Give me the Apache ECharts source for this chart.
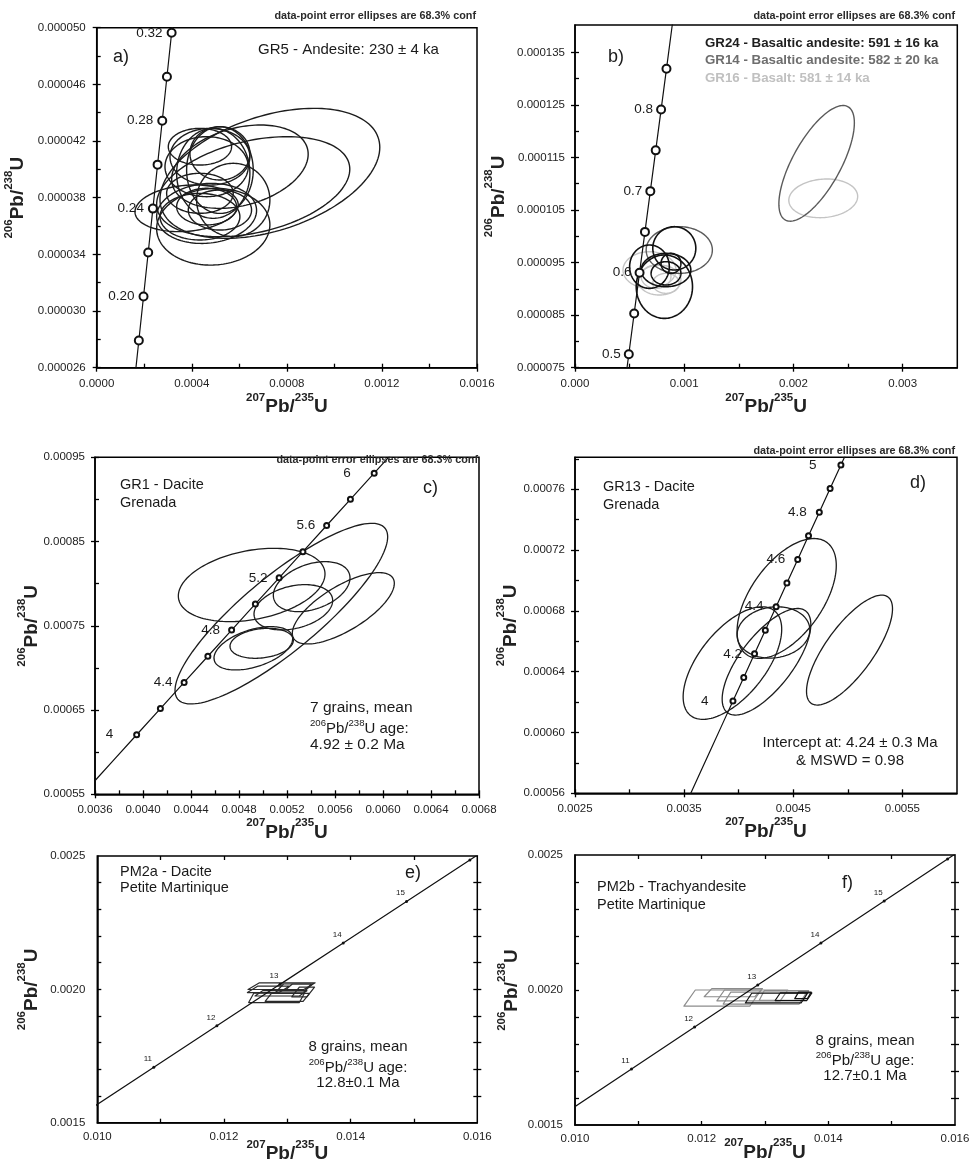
<!DOCTYPE html>
<html><head><meta charset="utf-8">
<script src="https://cdn.jsdelivr.net/npm/echarts@6/dist/echarts.min.js"></script>
<style>html,body{margin:0;padding:0;background:#fff}#c{width:969px;height:1162px}</style>
</head><body><div id="c"></div>
<script>
const FONT = '"Liberation Sans", Arial, Helvetica, sans-serif';
const INK = '#1a1a1a';

// ---------------- Panel a : GR5 ----------------
const aConcAges = [0.16,0.18,0.20,0.22,0.24,0.26,0.28,0.30,0.32,0.34];
const aConcX = [1.5759e-4,1.7729e-4,1.9699e-4,2.1669e-4,2.3639e-4,2.5609e-4,2.7580e-4,2.9550e-4,3.1520e-4,3.3490e-4];
const aConcY = [2.4820e-5,2.7923e-5,3.1025e-5,3.4128e-5,3.7230e-5,4.0333e-5,4.3436e-5,4.6538e-5,4.9641e-5,5.2744e-5];
const aMarkAges = [0.18,0.20,0.22,0.24,0.26,0.28,0.30,0.32];
const aAgeLabels = ['0.20','0.24','0.28','0.32'];
// [x centre, y centre, x half-range, y half-range, correlation]
const aEllipses = [
  [7.286e-4,3.972e-5,4.624e-4,4.588e-6,0.40],
  [6.585e-4,3.878e-5,4.063e-4,3.530e-6,0.35],
  [6.025e-4,4.019e-5,2.872e-4,2.941e-6,0.30],
  [4.764e-4,4.089e-5,1.681e-4,2.000e-6,0],
  [4.343e-4,4.160e-5,1.331e-4,1.294e-6,0],
  [5.184e-4,4.113e-5,1.261e-4,1.882e-6,0],
  [4.904e-4,3.972e-5,1.541e-4,3.177e-6,0],
  [4.624e-4,4.019e-5,1.751e-4,2.118e-6,0],
  [4.904e-4,3.595e-5,2.382e-4,2.706e-6,0.05],
  [4.624e-4,3.689e-5,2.102e-4,2.118e-6,0.10],
  [4.343e-4,3.666e-5,1.681e-4,1.647e-6,0],
  [4.624e-4,3.737e-5,1.261e-4,1.294e-6,0],
  [5.184e-4,3.713e-5,1.331e-4,1.412e-6,0],
  [3.783e-4,3.725e-5,2.172e-4,1.647e-6,0.15],
  [5.745e-4,3.784e-5,1.541e-4,2.588e-6,0],
  [4.343e-4,3.831e-5,1.401e-4,1.412e-6,0],
  [5.184e-4,3.995e-5,1.401e-4,3.059e-6,0]
];
const aXLabels = [0,0.0004,0.0008,0.0012,0.0016];
const aXTicks = [0,0.0002,0.0004,0.0006,0.0008,0.0010,0.0012,0.0014,0.0016];
const aYLabels = [0.000026,0.000030,0.000034,0.000038,0.000042,0.000046,0.000050];
const aYTicks = [0.000026,0.000028,0.000030,0.000032,0.000034,0.000036,0.000038,0.000040,0.000042,0.000044,0.000046,0.000048,0.000050];

// ---------------- Panel b : GR24 / GR14 / GR16 ----------------
const bConcAges = [0.45,0.50,0.55,0.60,0.65,0.70,0.75,0.80,0.85,0.90,0.95];
const bConcX = [4.4328e-4,4.9255e-4,5.4181e-4,5.9109e-4,6.4036e-4,6.8963e-4,7.3891e-4,7.8819e-4,8.3747e-4,8.8676e-4,9.3605e-4];
const bConcY = [6.9808e-5,7.7565e-5,8.5323e-5,9.3079e-5,1.00841e-4,1.08594e-4,1.16351e-4,1.24108e-4,1.31865e-4,1.39622e-4,1.47380e-4];
const bMarkAges = [0.50,0.55,0.60,0.65,0.70,0.75,0.80,0.85];
const bAgeLabels = ['0.5','0.6','0.7','0.8'];
const bEllipsesGR24 = [
  [8.182e-4,9.041e-5,2.576e-4,6.025e-6,0],
  [9.091e-4,9.771e-5,1.970e-4,4.123e-6,0],
  [6.818e-4,9.422e-5,1.818e-4,4.123e-6,0],
  [8.333e-4,9.295e-5,1.364e-4,2.220e-6,0],
  [8.788e-4,9.485e-5,0.909e-4,1.903e-6,0],
  [8.333e-4,9.358e-5,2.273e-4,3.171e-6,0]
];
const bEllipsesGR14 = [
  [2.2121e-3,1.1388e-4,3.455e-4,1.1004e-5,0.70],
  [9.545e-4,9.739e-5,3.030e-4,4.440e-6,0]
];
const bEllipsesGR16 = [
  [2.2727e-3,1.0722e-4,3.152e-4,3.679e-6,0.10],
  [6.818e-4,9.358e-5,2.424e-4,3.488e-6,0],
  [7.727e-4,9.168e-5,1.970e-4,2.854e-6,0],
  [7.424e-4,9.232e-5,1.364e-4,2.220e-6,0],
  [8.333e-4,9.105e-5,1.212e-4,1.903e-6,0]
];
const bXLabels = [0,0.001,0.002,0.003];
const bXTicks = [0,0.0005,0.001,0.0015,0.002,0.0025,0.003];
const bYLabels = [0.000075,0.000085,0.000095,0.000105,0.000115,0.000125,0.000135];
const bYTicks = [0.000075,0.000080,0.000085,0.000090,0.000095,0.000100,0.000105,0.000110,0.000115,0.000120,0.000125,0.000130,0.000135];

// ---------------- Panel c : GR1 ----------------
const cConcAges = [3.6,3.8,4.0,4.2,4.4,4.6,4.8,5.0,5.2,5.4,5.6,5.8,6.0,6.2];
const cConcX = [3.55175e-3,3.74944e-3,3.94717e-3,4.14494e-3,4.34274e-3,4.54059e-3,4.73847e-3,4.93639e-3,5.13436e-3,5.33236e-3,5.53040e-3,5.72848e-3,5.92659e-3,6.12475e-3];
const cConcY = [5.5861e-4,5.8965e-4,6.2069e-4,6.5174e-4,6.8278e-4,7.1383e-4,7.4488e-4,7.7593e-4,8.0698e-4,8.3803e-4,8.6908e-4,9.0013e-4,9.3118e-4,9.6224e-4];
const cMarkAges = [4.0,4.2,4.4,4.6,4.8,5.0,5.2,5.4,5.6,5.8,6.0];
const cAgeLabels = ['4','4.4','4.8','5.2','5.6','6'];
const cEllipses = [
  [4.9056e-3,7.9847e-4,6.111e-4,4.352e-5,0.30],
  [5.1528e-3,7.6444e-4,8.861e-4,1.0722e-4,0.85],
  [5.6694e-3,7.7077e-4,4.250e-4,4.233e-5,0.70],
  [5.2528e-3,7.7196e-4,3.278e-4,2.690e-5,0.30],
  [5.4056e-3,7.9649e-4,3.194e-4,2.967e-5,0.35],
  [4.9889e-3,7.2923e-4,2.639e-4,1.780e-5,0.20],
  [4.9194e-3,7.2329e-4,3.278e-4,2.572e-5,0.45]
];
const cXLabels = [0.0036,0.0040,0.0044,0.0048,0.0052,0.0056,0.0060,0.0064,0.0068];
const cXTicks = [0.0036,0.0038,0.0040,0.0042,0.0044,0.0046,0.0048,0.0050,0.0052,0.0054,0.0056,0.0058,0.0060,0.0062,0.0064,0.0066,0.0068];
const cYLabels = [0.00055,0.00065,0.00075,0.00085,0.00095];
const cYTicks = [0.00055,0.00060,0.00065,0.00070,0.00075,0.00080,0.00085,0.00090,0.00095];

// ---------------- Panel d : GR13 ----------------
const dConcAges = [3.5,3.6,3.7,3.8,3.9,4.0,4.1,4.2,4.3,4.4,4.5,4.6,4.7,4.8,4.9,5.0,5.1,5.2];
const dConcX = [3.45292e-3,3.55175e-3,3.65059e-3,3.74944e-3,3.84830e-3,3.94717e-3,4.04605e-3,4.14494e-3,4.24383e-3,4.34274e-3,4.44166e-3,4.54059e-3,4.63952e-3,4.73847e-3,4.83743e-3,4.93639e-3,5.03537e-3,5.13436e-3];
const dConcY = [5.4308e-4,5.5861e-4,5.7413e-4,5.8965e-4,6.0517e-4,6.2069e-4,6.3621e-4,6.5174e-4,6.6726e-4,6.8278e-4,6.9831e-4,7.1383e-4,7.2935e-4,7.4488e-4,7.6040e-4,7.7593e-4,7.9145e-4,8.0698e-4];
const dMarkAges = [4.0,4.1,4.2,4.3,4.4,4.5,4.6,4.7,4.8,4.9,5.0];
const dAgeLabels = ['4','4.2','4.4','4.6','4.8','5'];
const dEllipses = [
  [4.4394e-3,6.8815e-4,4.545e-4,3.943e-5,0.55],
  [3.9424e-3,6.4565e-4,4.515e-4,3.702e-5,0.60],
  [4.3182e-3,6.6581e-4,3.333e-4,1.687e-5,0.10],
  [4.2545e-3,6.4653e-4,4.061e-4,3.505e-5,0.70],
  [5.0152e-3,6.5420e-4,3.939e-4,3.614e-5,0.75]
];
const dXLabels = [0.0025,0.0035,0.0045,0.0055];
const dXTicks = [0.0025,0.0030,0.0035,0.0040,0.0045,0.0050,0.0055];
const dYLabels = [0.00056,0.00060,0.00064,0.00068,0.00072,0.00076];
const dYTicks = [0.00056,0.00058,0.00060,0.00062,0.00064,0.00066,0.00068,0.00070,0.00072,0.00074,0.00076,0.00078];

// ---------------- Panels e / f : PM2a, PM2b ----------------
const efConcAges = [10,11,12,13,14,15,16,17];
const efConcX = [9.8972e-3,1.08923e-2,1.18883e-2,1.28854e-2,1.38834e-2,1.48824e-2,1.58824e-2,1.68834e-2];
const efConcY = [1.55245e-3,1.70783e-3,1.86323e-3,2.01866e-3,2.17411e-3,2.32958e-3,2.48508e-3,2.64060e-3];
const efMarkAges = [11,12,13,14,15,16];
const efAgeLabels = ['11','12','13','14','15'];
// [x centre, y centre, x half-width, y half-height, shear]
const eBoxes = [
  [0.01291,0.002012,0.00044,0.0000125,0.00009],
  [0.01283,0.001968,0.00040,0.0000175,0.00004],
  [0.01310,0.002005,0.00022,0.0000150,0.00006],
  [0.01325,0.001990,0.00012,0.0000180,0.00006],
  [0.01300,0.001970,0.00030,0.0000150,0.00005],
  [0.01270,0.002000,0.00025,0.0000120,0.00008],
  [0.01318,0.002008,0.00016,0.0000120,0.00006],
  [0.01290,0.001985,0.00035,0.0000100,0.00006]
];
const fBoxesGrey = [
  [0.01233,0.001970,0.00052,0.0000300,0.00009],
  [0.01280,0.001980,0.00050,0.0000200,0.00006],
  [0.01300,0.001970,0.00060,0.0000220,0.00006],
  [0.01330,0.001980,0.00035,0.0000180,0.00004],
  [0.01250,0.001990,0.00040,0.0000150,0.00006]
];
const fBoxesBlack = [
  [0.01318,0.001970,0.00044,0.0000180,0.00005],
  [0.01345,0.001975,0.00025,0.0000140,0.00004],
  [0.01360,0.001980,0.00010,0.0000120,0.00003]
];
const efXLabels = [0.010,0.012,0.014,0.016];
const efXTicks = [0.011,0.012,0.013,0.014,0.015];
const efYLabels = [0.0015,0.0020,0.0025];
const efYTicks = [0.0016,0.0017,0.0018,0.0019,0.0020,0.0021,0.0022,0.0023,0.0024];

// ================= building the option =================
const grids = [], xAxes = [], yAxes = [], series = [], graphics = [];
const nameRich = {
  s: {fontSize: 11.5, fontWeight: 'bold', fontFamily: FONT, color: '#222', verticalAlign: 'top', lineHeight: 12},
  m: {fontSize: 19, fontWeight: 'bold', fontFamily: FONT, color: '#222', verticalAlign: 'bottom', lineHeight: 25}
};
const axisName = (a, b) => '{s|' + a + '}{m|Pb/}{s|' + b + '}{m|U}';
const near = (a, b) => Math.abs(a - b) < 1e-7;

function ellipseSeries(xi, yi, data, color, width) {
  return {type: 'custom', xAxisIndex: xi, yAxisIndex: yi, data: data, encode: {x: 0, y: 1}, silent: true, z: 2,
    renderItem: (params, api) => {
      const cx = api.value(0), cy = api.value(1), sx = api.value(2), sy = api.value(3), r = api.value(4);
      const q = Math.sqrt(1 - r * r), pts = [];
      for (let i = 0; i < 140; i++) {
        const t = i / 140 * 2 * Math.PI;
        pts.push(api.coord([cx + sx * Math.cos(t), cy + sy * (r * Math.cos(t) + q * Math.sin(t))]));
      }
      return {type: 'polygon', shape: {points: pts}, style: {fill: 'none', stroke: color, lineWidth: width}};
    }};
}
function boxSeries(xi, yi, data, color, width) {
  return {type: 'custom', xAxisIndex: xi, yAxisIndex: yi, data: data, encode: {x: 0, y: 1}, silent: true, z: 2,
    renderItem: (params, api) => {
      const cx = api.value(0), cy = api.value(1), w = api.value(2), h = api.value(3), s = api.value(4);
      const pts = [[cx - w + s, cy + h], [cx + w + s, cy + h], [cx + w - s, cy - h], [cx - w - s, cy - h]].map(p => api.coord(p));
      return {type: 'polygon', shape: {points: pts}, style: {fill: 'none', stroke: color, lineWidth: width, lineJoin: 'round'}};
    }};
}

function addPanel(p) {
  const gi = grids.length;
  grids.push({left: p.left, top: p.top, width: p.width, height: p.height, show: true,
    borderColor: '#000', borderWidth: 1.5, backgroundColor: 'transparent', containLabel: false, outerBoundsMode: 'none'});
  const tickStyle = {color: '#000', width: 1.3};
  const mk = (dim, pos, extra) => Object.assign({
    gridIndex: gi, type: 'value', position: pos,
    min: dim === 'x' ? p.xMin : p.yMin, max: dim === 'x' ? p.xMax : p.yMax,
    splitLine: {show: false}, splitArea: {show: false}, axisLine: {show: false, onZero: false},
    axisLabel: {show: false}, axisTick: {show: false}, minorTick: {show: false}, axisPointer: {show: false}, silent: true
  }, extra);
  const xi = xAxes.length, yi = yAxes.length;
  xAxes.push(mk('x', 'bottom', {
    axisLine: {show: true, onZero: false, lineStyle: {color: '#000', width: 1.5}},
    axisLabel: {show: true, customValues: p.xLabels, formatter: v => Number(v).toFixed(p.xDec),
      fontSize: 11.5, color: '#222', fontFamily: FONT, margin: p.xMargin},
    axisTick: p.ticks === 'ad' ? {show: true, inside: false, length: 4, customValues: p.xLabels, lineStyle: tickStyle} : {show: false},
    name: axisName('207', '235'), nameLocation: 'middle', nameGap: p.xNameGap, nameMoveOverlap: false,
    nameTextStyle: {rich: nameRich}
  }));
  xAxes.push(mk('x', 'bottom', {axisTick: {show: true, inside: true, length: 4, customValues: p.xTicks, lineStyle: tickStyle}}));
  yAxes.push(mk('y', 'left', {
    axisLine: {show: true, onZero: false, lineStyle: {color: '#000', width: 1.5}},
    axisLabel: {show: true, customValues: p.yLabels, formatter: v => Number(v).toFixed(p.yDec),
      fontSize: 11.5, color: '#222', fontFamily: FONT, margin: p.yMargin},
    axisTick: p.ticks === 'ad' ? {show: true, inside: false, length: 4, customValues: p.yLabels, lineStyle: tickStyle} : {show: false},
    name: axisName('206', '238'), nameLocation: 'middle', nameRotate: 90, nameGap: p.yNameGap, nameMoveOverlap: false,
    nameTextStyle: {rich: nameRich}
  }));
  yAxes.push(mk('y', 'left', {axisTick: {show: true, inside: true, length: 4, customValues: p.yTicks, lineStyle: tickStyle}}));
  if (p.ticks === 'ef') {
    xAxes.push(mk('x', 'top', {axisTick: {show: true, inside: true, length: 4, customValues: p.xTicks, lineStyle: tickStyle}}));
    yAxes.push(mk('y', 'right', {axisTick: {show: true, inside: true, length: 4, customValues: p.yTicks, lineStyle: tickStyle}}));
    yAxes.push(mk('y', 'right', {axisTick: {show: true, inside: false, length: 4, customValues: p.yTicks, lineStyle: tickStyle}}));
  }
  // concordia curve
  const c = p.conc;
  const items = c.ages.map((age, k) => {
    const isMark = c.marks.some(m => near(m, age));
    const lab = c.labels.find(l => near(parseFloat(l), age));
    const item = {value: [c.x[k], c.y[k]], symbol: isMark ? p.sym : 'none'};
    if (lab) item.label = {show: true, formatter: lab, distance: p.labDist + (lab.indexOf('.') < 0 ? p.intExtra : 0)};
    return item;
  });
  series.push({type: 'line', xAxisIndex: xi, yAxisIndex: yi, data: items, z: 3, clip: true,
    symbolSize: p.symSize, showAllSymbol: true, animation: false,
    lineStyle: {color: '#111', width: 1.2},
    itemStyle: {color: '#111', borderColor: '#111', borderWidth: p.symBorder},
    label: {show: false, position: p.labPos, offset: p.labOffset, fontSize: p.labFont, color: INK, fontFamily: FONT},
    emphasis: {disabled: true}});
  p.marks.forEach(m => series.push(m.kind === 'box'
    ? boxSeries(xi, yi, m.data, m.color, m.width)
    : ellipseSeries(xi, yi, m.data, m.color, m.width)));
}

const common = {labPos: 'left', labOffset: [0, 0], intExtra: 0};
addPanel(Object.assign({}, common, {left: 96.7, top: 27.7, width: 380.3, height: 340, ticks: 'ad',
  xMin: 0, xMax: 0.0016, xLabels: aXLabels, xTicks: aXTicks, xDec: 4,
  yMin: 0.000026, yMax: 0.00005, yLabels: aYLabels, yTicks: aYTicks, yDec: 6,
  xMargin: 10, yMargin: 11, xNameGap: 24, yNameGap: 69,
  conc: {ages: aConcAges, x: aConcX, y: aConcY, marks: aMarkAges, labels: aAgeLabels},
  sym: 'emptyCircle', symSize: 8, symBorder: 1.5, labDist: 4, labFont: 13.5,
  marks: [{data: aEllipses, color: '#1c1c1c', width: 1.4}]}));
addPanel(Object.assign({}, common, {left: 575, top: 25, width: 382.3, height: 342.7, ticks: 'ad',
  xMin: 0, xMax: 0.0035, xLabels: bXLabels, xTicks: bXTicks, xDec: 3,
  yMin: 0.000075, yMax: 0.0001402, yLabels: bYLabels, yTicks: bYTicks, yDec: 6,
  xMargin: 10, yMargin: 10, xNameGap: 24, yNameGap: 67,
  conc: {ages: bConcAges, x: bConcX, y: bConcY, marks: bMarkAges, labels: bAgeLabels},
  sym: 'emptyCircle', symSize: 8, symBorder: 1.5, labDist: 3, labFont: 13.5,
  marks: [{data: bEllipsesGR16, color: '#c4c4c4', width: 1.4},
          {data: bEllipsesGR14, color: '#5a5a5a', width: 1.4},
          {data: bEllipsesGR24, color: '#111', width: 1.6}]}));
addPanel(Object.assign({}, common, {left: 95, top: 457.3, width: 384, height: 337, ticks: 'ad',
  xMin: 0.0036, xMax: 0.0068, xLabels: cXLabels, xTicks: cXTicks, xDec: 4,
  yMin: 0.00055, yMax: 0.00095, yLabels: cYLabels, yTicks: cYTicks, yDec: 5,
  xMargin: 10, yMargin: 10, xNameGap: 23, yNameGap: 54,
  conc: {ages: cConcAges, x: cConcX, y: cConcY, marks: cMarkAges, labels: cAgeLabels},
  sym: 'emptyCircle', symSize: 5, symBorder: 1, labDist: 8, intExtra: 12, labFont: 13.5,
  marks: [{data: cEllipses, color: '#1c1c1c', width: 1.3}]}));
addPanel(Object.assign({}, common, {left: 575, top: 457.3, width: 382, height: 336, ticks: 'ad',
  xMin: 0.0025, xMax: 0.006, xLabels: dXLabels, xTicks: dXTicks, xDec: 4,
  yMin: 0.00056, yMax: 0.000781, yLabels: dYLabels, yTicks: dYTicks, yDec: 5,
  xMargin: 10, yMargin: 10, xNameGap: 23, yNameGap: 55,
  conc: {ages: dConcAges, x: dConcX, y: dConcY, marks: dMarkAges, labels: dAgeLabels},
  sym: 'emptyCircle', symSize: 5, symBorder: 1, labDist: 9, intExtra: 12, labFont: 13.5,
  marks: [{data: dEllipses, color: '#1c1c1c', width: 1.3}]}));
addPanel(Object.assign({}, common, {left: 97.3, top: 856, width: 380, height: 266.7, ticks: 'ef',
  xMin: 0.010, xMax: 0.016, xLabels: efXLabels, xTicks: efXTicks, xDec: 3,
  yMin: 0.0015, yMax: 0.0025, yLabels: efYLabels, yTicks: efYTicks, yDec: 4,
  xMargin: 8, yMargin: 12, xNameGap: 16, yNameGap: 56,
  conc: {ages: efConcAges, x: efConcX, y: efConcY, marks: efMarkAges, labels: efAgeLabels},
  sym: 'circle', symSize: 3, symBorder: 0, labPos: 'top', labOffset: [-6, 0], labDist: 3, labFont: 8,
  marks: [{kind: 'box', data: eBoxes, color: '#2a2a2a', width: 1.2}]}));
addPanel(Object.assign({}, common, {left: 575, top: 855, width: 380, height: 270, ticks: 'ef',
  xMin: 0.010, xMax: 0.016, xLabels: efXLabels, xTicks: efXTicks, xDec: 3,
  yMin: 0.0015, yMax: 0.0025, yLabels: efYLabels, yTicks: efYTicks, yDec: 4,
  xMargin: 8, yMargin: 12, xNameGap: 12, yNameGap: 54,
  conc: {ages: efConcAges, x: efConcX, y: efConcY, marks: efMarkAges, labels: efAgeLabels},
  sym: 'circle', symSize: 3, symBorder: 0, labPos: 'top', labOffset: [-6, 0], labDist: 3, labFont: 8,
  marks: [{kind: 'box', data: fBoxesGrey, color: '#8c8c8c', width: 1.2},
          {kind: 'box', data: fBoxesBlack, color: '#111', width: 1.2}]}));

// ---------------- annotation texts ----------------
function T(x, y, text, opt) {
  graphics.push({type: 'text', x: x, y: y, silent: true, z: 50,
    style: Object.assign({text: text, fill: INK, fontSize: 14, fontFamily: FONT, align: 'left', verticalAlign: 'middle'}, opt || {})});
}
const supRich = (fs) => ({
  s: {fontSize: fs * 0.64, lineHeight: 10, verticalAlign: 'top', fontFamily: FONT, fill: INK},
  n: {fontSize: fs, lineHeight: 18, verticalAlign: 'bottom', fontFamily: FONT, fill: INK}
});
const ageLine = '{s|206}{n|Pb/}{s|238}{n|U age:}';
const CONF = 'data-point error ellipses are 68.3% conf';
const confStyle = {fontSize: 10.8, fontWeight: 'bold', align: 'right', fill: '#2a2a2a'};
// a
T(476, 16, CONF, confStyle);
T(113, 57, 'a)', {fontSize: 18});
T(258, 50, 'GR5 - Andesite: 230 \u00b1 4 ka', {fontSize: 15});
// b
T(955, 16, CONF, confStyle);
T(608, 57, 'b)', {fontSize: 18});
T(705, 43, 'GR24 - Basaltic andesite: 591 \u00b1 16 ka', {fontSize: 13.3, fontWeight: 'bold', fill: '#1e1e1e'});
T(705, 60, 'GR14 - Basaltic andesite: 582 \u00b1 20 ka', {fontSize: 13.3, fontWeight: 'bold', fill: '#6e6e6e'});
T(705, 78, 'GR16 - Basalt: 581 \u00b1 14 ka', {fontSize: 13.3, fontWeight: 'bold', fill: '#c0c0c0'});
// c
T(478, 460, CONF, confStyle);
T(120, 485, 'GR1 - Dacite', {fontSize: 14.5});
T(120, 503, 'Grenada', {fontSize: 14.5});
T(423, 488, 'c)', {fontSize: 18});
T(310, 708, '7 grains, mean', {fontSize: 15.5});
T(310, 727, ageLine, {rich: supRich(15)});
T(310, 745, '4.92 \u00b1 0.2 Ma', {fontSize: 15.5});
// d
T(955, 451, CONF, confStyle);
T(603, 487, 'GR13 - Dacite', {fontSize: 14.5});
T(603, 505, 'Grenada', {fontSize: 14.5});
T(910, 483, 'd)', {fontSize: 18});
T(850, 743, 'Intercept at: 4.24 \u00b1 0.3 Ma', {fontSize: 15, align: 'center'});
T(850, 761, '& MSWD = 0.98', {fontSize: 15, align: 'center'});
// e
T(120, 872, 'PM2a - Dacite', {fontSize: 14.5});
T(120, 888, 'Petite Martinique', {fontSize: 14.5});
T(405, 873, 'e)', {fontSize: 18});
T(358, 1047, '8 grains, mean', {fontSize: 15, align: 'center'});
T(358, 1066, ageLine, {rich: supRich(15), align: 'center'});
T(358, 1083, '12.8\u00b10.1 Ma', {fontSize: 15, align: 'center'});
// f
T(597, 887, 'PM2b - Trachyandesite', {fontSize: 14.5});
T(597, 905, 'Petite Martinique', {fontSize: 14.5});
T(842, 883, 'f)', {fontSize: 18});
T(865, 1041, '8 grains, mean', {fontSize: 15, align: 'center'});
T(865, 1059, ageLine, {rich: supRich(15), align: 'center'});
T(865, 1076, '12.7\u00b10.1 Ma', {fontSize: 15, align: 'center'});

const chart = echarts.init(document.getElementById('c'), null, {renderer: 'canvas'});
chart.setOption({
  animation: false,
  backgroundColor: '#fff',
  textStyle: {fontFamily: FONT},
  grid: grids, xAxis: xAxes, yAxis: yAxes, series: series, graphic: graphics
});
</script></body></html>
